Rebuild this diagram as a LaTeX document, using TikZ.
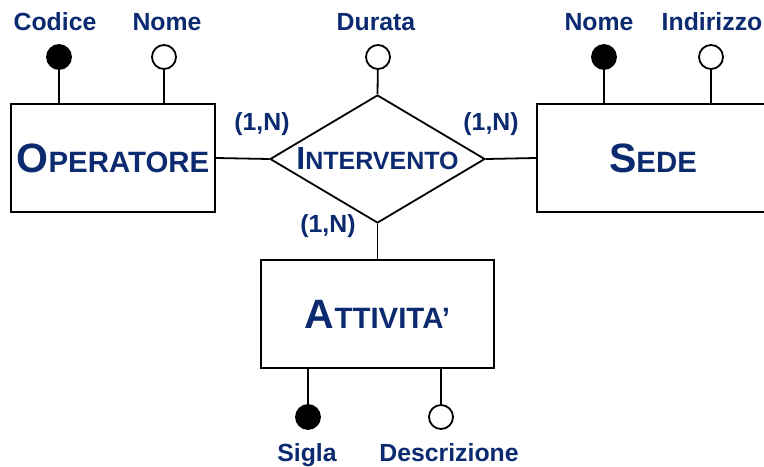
\documentclass[tikz,border=0pt]{standalone}
\usepackage{fontspec}
\setmainfont{Liberation Sans}
\usetikzlibrary{shapes.geometric}
\definecolor{erblue}{HTML}{0B2A6F}
\newcommand{\entname}[2]{{\fontsize{20.5}{22}\selectfont #1}{\fontsize{14.7}{16}\selectfont #2}}

\begin{document}
\begin{tikzpicture}[x=0.5pt,y=-0.5pt,
  entity/.style={draw, line width=1pt, minimum height=54pt, inner sep=0pt, font=\bfseries, text=erblue},
  relation/.style={draw, diamond, line width=0.9pt, minimum width=107.5pt, minimum height=64pt, aspect=1.68, inner sep=0pt, font=\bfseries, text=erblue},
  keyattr/.style={circle, draw, fill=black, line width=0.9pt, minimum size=12pt, inner sep=0pt},
  attr/.style={circle, draw, fill=white, line width=0.9pt, minimum size=12pt, inner sep=0pt},
  lbl/.style={font=\bfseries\fontsize{12.4}{14}\selectfont, text=erblue, inner sep=0pt, anchor=base},
  conn/.style={line width=0.9pt}]

\useasboundingbox (0,0) rectangle (764,466);

\node [entity, minimum width=102pt] (operatore) at (113,158) {\entname{O}{PERATORE}};
\node [entity, minimum width=116pt] (sede) at (653,158) {\entname{S}{EDE}};
\node [entity, minimum width=116.5pt] (attivita) at (377.5,314) {\entname{A}{TTIVITA'}};
\node [relation] (intervento) at (377.5,159) {{\fontsize{16}{18}\selectfont I}{\fontsize{12.5}{14}\selectfont NTERVENTO}};

\draw [conn] (operatore.east) -- (intervento.west);
\draw [conn] (intervento.east) -- (sede.west);
\draw [conn] (intervento.south) -- (attivita.north);

\node [lbl] (card1) at (262,130) {(1,N)};
\node [lbl] (card2) at (491,130) {(1,N)};
\node [lbl] (card3) at (328,232) {(1,N)};

\node [keyattr] (codice) at (59,57) {};
\node [attr] (opnome) at (164,57) {};
\node [attr] (durata) at (378,57) {};
\node [keyattr] (sedenome) at (604,57) {};
\node [attr] (indirizzo) at (711,57) {};
\node [keyattr] (sigla) at (308,417) {};
\node [attr] (descrizione) at (441,417) {};

\draw [conn] (codice) -- (codice |- operatore.north);
\draw [conn] (opnome) -- (opnome |- operatore.north);
\draw [conn] (durata) -- (intervento.north);
\draw [conn] (sedenome) -- (sedenome |- sede.north);
\draw [conn] (indirizzo) -- (indirizzo |- sede.north);
\draw [conn] (sigla) -- (sigla |- attivita.south);
\draw [conn] (descrizione) -- (descrizione |- attivita.south);

\node [lbl] (codicelbl) at (55,30) {Codice};
\node [lbl] (opnomelbl) at (167,30) {Nome};
\node [lbl] (duratalbl) at (376,30) {Durata};
\node [lbl] (sedenomelbl) at (599,30) {Nome};
\node [lbl] (indirizzolbl) at (712,30) {Indirizzo};
\node [lbl] (siglalbl) at (307,461) {Sigla};
\node [lbl] (descrizionelbl) at (449,461) {Descrizione};

\end{tikzpicture}
\end{document}
